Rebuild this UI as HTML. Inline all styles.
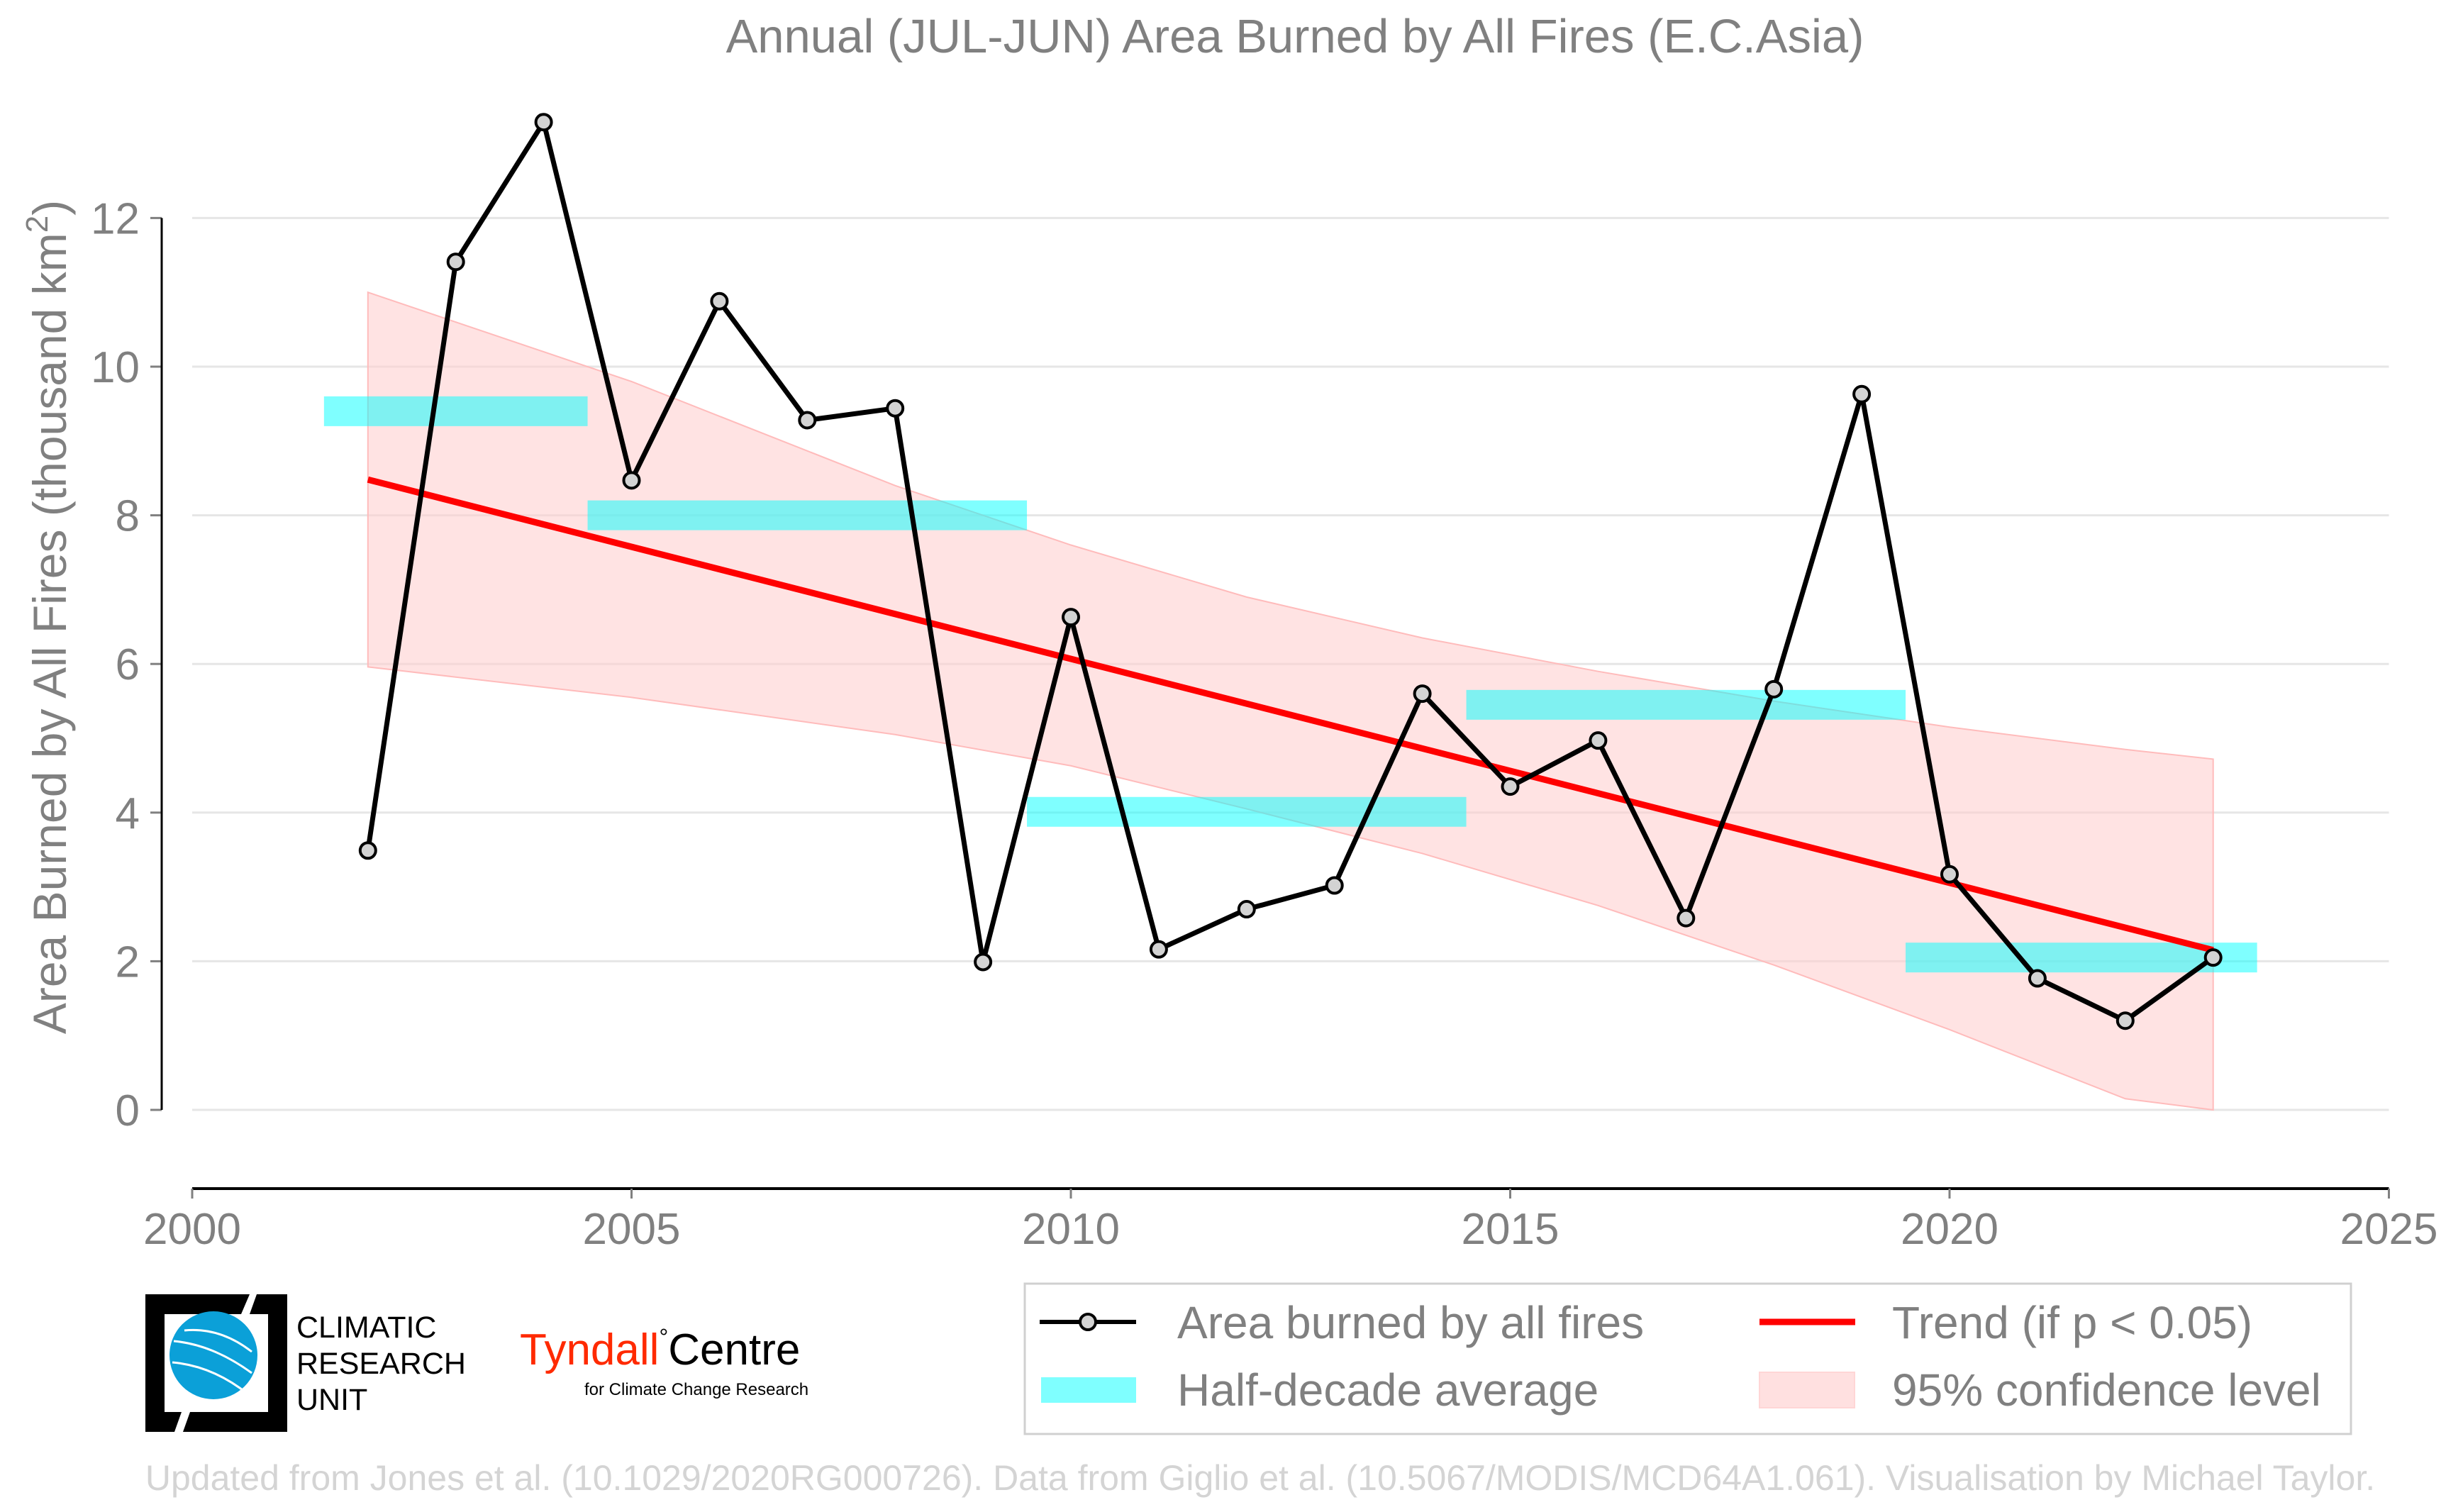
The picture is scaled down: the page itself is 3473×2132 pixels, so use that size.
<!DOCTYPE html>
<html><head><meta charset="utf-8"><style>
html,body{margin:0;padding:0;background:#fff}
svg{display:block;font-family:"Liberation Sans",Arial,sans-serif}
</style></head><body>
<svg id="chart" width="3473" height="2132" viewBox="0 0 3473 2132" xmlns="http://www.w3.org/2000/svg">
<text x="1826" y="74" text-anchor="middle" font-size="67" fill="#808080">Annual (JUL-JUN) Area Burned by All Fires (E.C.Asia)</text>
<g id="grid"></g>
<g id="ci"></g>
<g id="half"></g>
<g id="trend"></g>
<g id="series"></g>
<g id="axes"></g>
<text transform="translate(93,870) rotate(-90)" text-anchor="middle" font-size="66" fill="#808080">Area Burned by All Fires (thousand km<tspan dy="-26" font-size="44">2</tspan><tspan dy="26">)</tspan></text>

<g>
<rect x="1445" y="1810" width="1870" height="212" fill="#fff" stroke="#d0d0d0" stroke-width="3"/>
<g>
<line x1="1466" y1="1864" x2="1602" y2="1864" stroke="#000" stroke-width="6"/>
<circle cx="1534" cy="1864" r="11" fill="#d3d3d3" stroke="#000" stroke-width="4"/>
<text x="1660" y="1887" font-size="64" fill="#808080">Area burned by all fires</text></g>
<g>
<line x1="2481" y1="1864" x2="2616" y2="1864" stroke="#ff0000" stroke-width="9"/>
<text x="2668" y="1887" font-size="64" fill="#808080">Trend (if p &lt; 0.05)</text></g>
<g>
<rect x="1468" y="1942" width="134" height="36" fill="#00ffff" opacity="0.5"/>
<text x="1660" y="1982" font-size="64" fill="#808080">Half-decade average</text></g>
<g>
<rect x="2481" y="1935" width="134" height="50" fill="#ffcccc" opacity="0.6" stroke="#ffbbbb" stroke-width="2"/>
<text x="2668" y="1982" font-size="64" fill="#808080">95% confidence level</text></g>
</g>

<g transform="translate(0,-9)">
<path d="M205,1834 L352,1834 L340,1862 L232,1862 L232,2000 L256,2000 L246,2028 L205,2028 Z" fill="#000"/>
<path d="M362,1834 L405,1834 L405,2028 L258,2028 L268,2000 L378,2000 L378,1862 L352,1862 Z" fill="#000"/>
<ellipse cx="301" cy="1920" rx="62" ry="62" fill="#0ba0d8"/>
<path d="M245,1900 Q300,1905 355,1945 M243,1930 Q300,1935 350,1975 M260,1885 Q310,1880 355,1915" stroke="#fff" stroke-width="3" fill="none"/>
<text x="418" y="1895" font-size="43" fill="#000">CLIMATIC</text>
<text x="418" y="1946" font-size="43" fill="#000">RESEARCH</text>
<text x="418" y="1997" font-size="43" fill="#000">UNIT</text>
</g>
<g>
<text x="733" y="1924" font-size="62" fill="#ff2a00">Tyndall<tspan fill="#000" font-size="32" dy="-28">°</tspan><tspan fill="#000" dy="28">Centre</tspan></text>
<text x="824" y="1967" font-size="24" fill="#000">for Climate Change Research</text>
</g>
<text x="1777" y="2101" text-anchor="middle" font-size="50" fill="#d4d4d4">Updated from Jones et al. (10.1029/2020RG000726). Data from Giglio et al. (10.5067/MODIS/MCD64A1.061). Visualisation by Michael Taylor.</text>
</svg>
<script>
const years=[2002,2003,2004,2005,2006,2007,2008,2009,2010,2011,2012,2013,2014,2015,2016,2017,2018,2019,2020,2021,2022,2023];
const burned=[3.49,11.41,13.29,8.47,10.88,9.28,9.44,1.99,6.63,2.16,2.70,3.02,5.60,4.35,4.97,2.58,5.66,9.63,3.17,1.77,1.20,2.05];
const halfStart=[2001.5,2004.5,2009.5,2014.5,2019.5];
const halfEnd=[2004.5,2009.5,2014.5,2019.5,2023.5];
const halfMean=[9.40,8.00,4.01,5.45,2.05];
const trendYears=[2002,2023];
const trendVals=[8.48,2.15];
const ciYears=[2002,2005,2008,2010,2012,2014,2016,2018,2020,2022,2023];
const ciUpper=[11.0,9.8,8.4,7.6,6.9,6.35,5.9,5.5,5.15,4.85,4.72];
const ciLower=[5.96,5.55,5.05,4.63,4.05,3.45,2.75,1.95,1.08,0.15,0.0];
const yTicks=[0,2,4,6,8,10,12];
const xTicks=[2000,2005,2010,2015,2020,2025];

const NS='http://www.w3.org/2000/svg';
const X=v=>271+(v-2000)*123.9;
const Y=v=>1565-v*104.8;
function mk(tag,attrs,parent){const e=document.createElementNS(NS,tag);for(const k in attrs)e.setAttribute(k,attrs[k]);parent.appendChild(e);return e;}
const grid=document.getElementById('grid'),axes=document.getElementById('axes');
yTicks.forEach(t=>{
 const g=mk('line',{x1:271,x2:X(2025),y1:Y(t),y2:Y(t),stroke:'#e6e6e6','stroke-width':3},grid);
 
 
 const tk=mk('line',{x1:212,x2:228,y1:Y(t),y2:Y(t),stroke:'#808080','stroke-width':3},axes);
 
 
 const l=mk('text',{x:197,y:Y(t)+22,'text-anchor':'end','font-size':62,fill:'#808080'},axes);
 l.textContent=t;
 
 
});
const ya=mk('line',{x1:228,x2:228,y1:Y(12),y2:Y(0),stroke:'#000','stroke-width':3},axes);


const xa=mk('line',{x1:X(2000),x2:X(2025),y1:1676,y2:1676,stroke:'#000','stroke-width':4},axes);


xTicks.forEach(t=>{
 const tk=mk('line',{x1:X(t),x2:X(t),y1:1676,y2:1690,stroke:'#808080','stroke-width':3},axes);
 
 
 const l=mk('text',{x:X(t),y:1754,'text-anchor':'middle','font-size':62,fill:'#808080'},axes);
 l.textContent=t;
 
 
});
let d='';ciYears.forEach((y,i)=>{d+=(i?'L':'M')+X(y)+','+Y(ciUpper[i]);});
for(let i=ciYears.length-1;i>=0;i--)d+='L'+X(ciYears[i])+','+Y(ciLower[i]);
const ci=mk('path',{d:d+'Z',fill:'#ffcccc','fill-opacity':0.55,stroke:'#ffbbbb','stroke-width':2},document.getElementById('ci'));


halfMean.forEach((m,i)=>{
 const r=mk('rect',{x:X(halfStart[i]),width:X(halfEnd[i])-X(halfStart[i]),y:Y(m)-21,height:42,fill:'#00ffff',opacity:0.5},document.getElementById('half'));
 
 
});
const tr=mk('line',{x1:X(trendYears[0]),y1:Y(trendVals[0]),x2:X(trendYears[1]),y2:Y(trendVals[1]),stroke:'#ff0000','stroke-width':9},document.getElementById('trend'));


const s=document.getElementById('series');
const pl=mk('polyline',{points:years.map((y,i)=>X(y)+','+Y(burned[i])).join(' '),fill:'none',stroke:'#000','stroke-width':7,'stroke-linejoin':'round'},s);


years.forEach((y,i)=>{
 const c=mk('circle',{cx:X(y),cy:Y(burned[i]),r:11,fill:'#d3d3d3',stroke:'#000','stroke-width':4},s);
 
 
});
</script>
</body></html>
